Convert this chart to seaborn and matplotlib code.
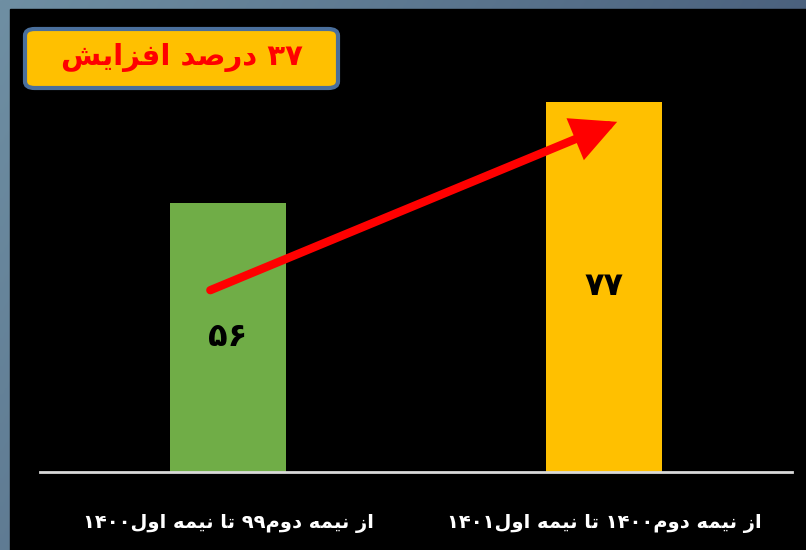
import numpy as np
import matplotlib
matplotlib.use("Agg")
import matplotlib.pyplot as plt
from matplotlib.patches import FancyBboxPatch, Rectangle
from matplotlib.patches import ArrowStyle
import seaborn as sns
import pandas as pd

# ---- data ----
categories = [
    # "از نیمه دوم۹۹ تا نیمه اول۱۴۰۰" (visual order, presentation forms)
    "\u06f1\u06f4\u06f0\u06f0\ufedd\ufeed\ufe8d \ufeea\ufee4\ufbff\ufee7 \ufe8e\ufe97 \u06f9\u06f9\ufee1\ufeed\ufea9 \ufeea\ufee4\ufbff\ufee7 \ufeaf\ufe8d",
    # "از نیمه دوم۱۴۰۰ تا نیمه اول۱۴۰۱"
    "\u06f1\u06f4\u06f0\u06f1\ufedd\ufeed\ufe8d \ufeea\ufee4\ufbff\ufee7 \ufe8e\ufe97 \u06f1\u06f4\u06f0\u06f0\ufee1\ufeed\ufea9 \ufeea\ufee4\ufbff\ufee7 \ufeaf\ufe8d",
]
values = [56, 77]
bar_colors = ["#70AD47", "#FFC000"]
# "۳۷ درصد افزایش"
title_text = "\ufeb6\ufbfe\ufe8d\ufeb0\ufed3\ufe8d \ufeaa\ufebb\ufead\ufea9 \u06f3\u06f7"

def fa_digits(n):
    return "".join(chr(0x06F0 + int(c)) for c in str(n))

df = pd.DataFrame({"cat": categories, "val": values})

W, H = 806, 550
fig = plt.figure(figsize=(W / 100, H / 100), dpi=100)

# background frame gradient
bg = fig.add_axes([0, 0, 1, 1], zorder=-10)
gx = np.linspace(0, 1, 200)
gy = np.linspace(0, 1, 200)
GX, GY = np.meshgrid(gx, gy)
c1 = np.array([0x6f, 0x8f, 0xa3]) / 255.0
c2 = np.array([0x3c, 0x4e, 0x6e]) / 255.0
t = np.clip(0.7 * GX + 0.3 * GY, 0, 1)[..., None]
img = c1 * (1 - t) + c2 * t
bg.imshow(img, extent=[0, 1, 0, 1], aspect="auto", origin="upper")
bg.add_patch(Rectangle((10 / W, 0), 1, 1 - 9 / H, color="black", transform=bg.transAxes))
bg.set_xlim(0, 1)
bg.set_ylim(0, 1)
bg.axis("off")

# main axes
ax = fig.add_axes([40 / W, 78 / H, 752 / W, 384.8 / H])
ax.set_facecolor("none")
sns.barplot(data=df, x="cat", y="val", hue="cat", palette=bar_colors,
            width=0.31, legend=False, ax=ax, saturation=1)
ax.set_xlim(-0.5, 1.5)
ax.set_ylim(0, 80)
for s in ["top", "right", "left"]:
    ax.spines[s].set_visible(False)
ax.spines["bottom"].set_color("#D9D9D9")
ax.spines["bottom"].set_linewidth(2)
ax.set_yticks([])
ax.set_xlabel("")
ax.set_ylabel("")
ax.tick_params(axis="x", length=0, pad=30, labelcolor="white")
for lbl in ax.get_xticklabels():
    lbl.set_fontsize(14)
    lbl.set_fontweight("bold")
    lbl.set_family("DejaVu Sans")

for i, v in enumerate(values):
    ax.text(i, v / 2, fa_digits(v), ha="center", va="center",
            fontsize=23, fontweight="bold", color="black", family="DejaVu Sans")

# arrow from first bar to second bar
ax.annotate("", xy=(1.035, 72.8), xytext=(-0.047, 37.8),
            arrowprops=dict(arrowstyle=ArrowStyle("-|>", head_length=1.0, head_width=0.5),
                            mutation_scale=23, color="#FF0000", lw=6,
                            shrinkA=0, shrinkB=0, capstyle="round", joinstyle="miter"),
            zorder=10)

# title box
box = FancyBboxPatch((25 / W, 1 - 88 / H), 313 / W, 59 / H,
                     boxstyle="round,pad=0,rounding_size=0.012",
                     transform=fig.transFigure, facecolor="#FFC000",
                     edgecolor="#4A6F9C", linewidth=3, zorder=5)
fig.patches.append(box)
fig.text(182 / W, 1 - 58 / H, title_text, ha="center", va="center",
         fontsize=21, fontweight="bold", color="#FF0000", family="DejaVu Sans", zorder=6)

fig.savefig("out.png", dpi=100)
